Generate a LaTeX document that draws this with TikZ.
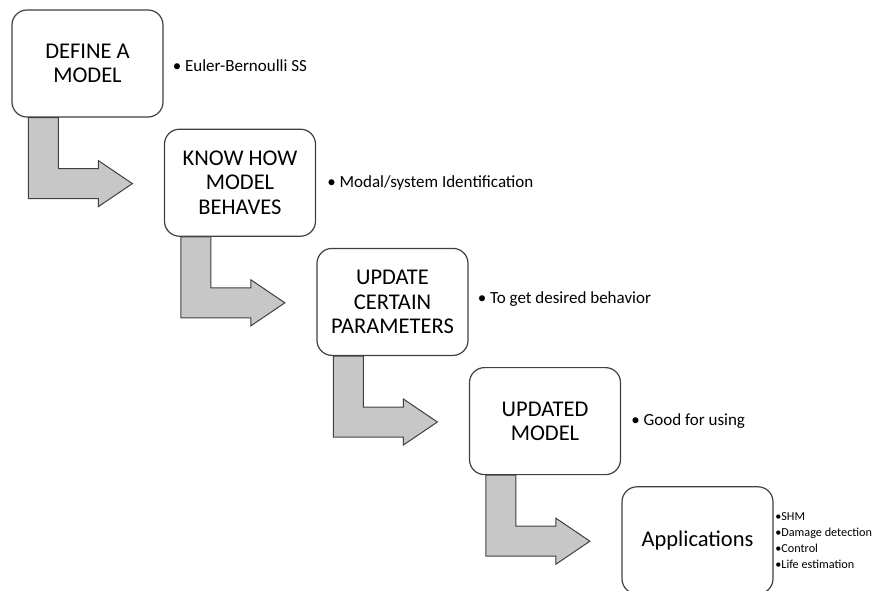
\documentclass[tikz,border=0pt]{standalone}
\usepackage{fontspec}
\setmainfont{Carlito}
\usetikzlibrary{positioning}

\begin{document}
\begin{tikzpicture}
	[x=1pt,y=-1pt,
	stepbox/.style={draw=black!75,line width=1.2pt,fill=white,rounded corners=15pt,minimum width=151pt,minimum height=107pt,align=center,inner sep=2pt,font=\fontsize{22.5}{24.5}\selectfont},
	sidenote/.style={inner sep=0pt,font=\fontsize{17}{20}\selectfont},
	smallnote/.style={inner sep=0pt,align=left,font=\fontsize{12.2}{16}\selectfont},
	bentarrow/.style={draw=black!75,fill=black!22,line width=1pt}
	]
	\useasboundingbox (0,0) rectangle (880,590);
	\node[stepbox] (define) at (87.5,63.5) {DEFINE A\\MODEL};
	\node[stepbox,below right=11pt and 0.3pt of define] (know) {KNOW HOW\\MODEL\\BEHAVES};
	\node[stepbox,below right=11pt and 0.3pt of know] (update) {UPDATE\\CERTAIN\\PARAMETERS};
	\node[stepbox,below right=11pt and 0.3pt of update] (updated) {UPDATED\\MODEL};
	\node[stepbox,below right=11pt and 0.3pt of updated] (apps) {Applications};
	\node[sidenote,right=9pt of define,yshift=-2pt] (definenote) {• Euler-Bernoulli SS};
	\node[sidenote,right=11pt of know] (knownote) {• Modal/system Identification};
	\node[sidenote,right=9pt of update,yshift=3pt] (updatenote) {• To get desired behavior};
	\node[sidenote,right=10pt of updated] (updatednote) {• Good for using};
	\node[smallnote,right=1.5pt of apps] (appsnote) {•SHM\\•Damage detection\\•Control\\•Life estimation};
	\foreach \from in {define,know,update,updated}
		\draw[bentarrow,shift={(\from.south west)}] (17,0) -- (47,0) -- (47,51) -- (87,51) -- (87,43) -- (121,66) -- (87,89) -- (87,81) -- (17,81) -- cycle;
\end{tikzpicture}
\end{document}
